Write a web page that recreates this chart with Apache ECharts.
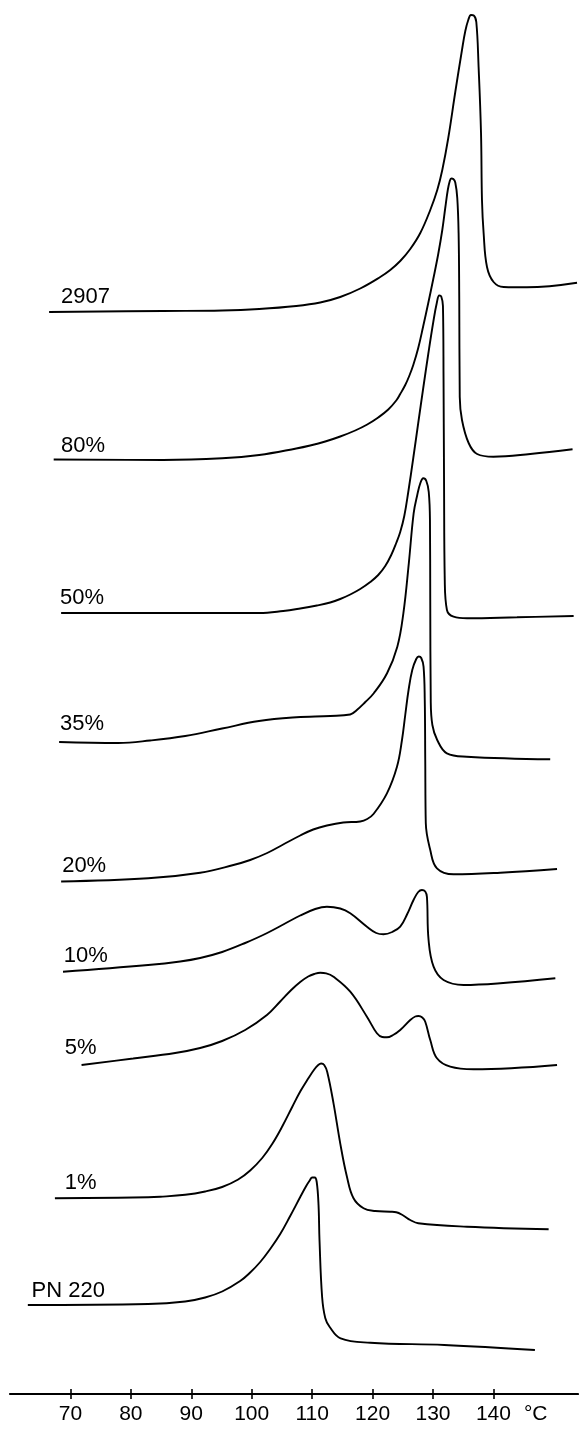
<!DOCTYPE html>
<html>
<head>
<meta charset="utf-8">
<title>DSC melting curves</title>
<script src="https://cdn.jsdelivr.net/npm/echarts@6/dist/echarts.min.js"></script>
<style>
  html, body { margin: 0; padding: 0; background: #fff; }
  #chart { width: 579px; height: 1429px; }
</style>
</head>
<body>
<div id="chart"></div>
<script>
// Sample names, top to bottom
const curveNames = ['2907', '80%', '50%', '35%', '20%', '10%', '5%', '1%', 'PN 220'];
// Vertical shift of each trace (a.u.)
const baselineLevels = [1082, 934.5, 781, 652, 512.5, 422.3, 329, 195.7, 89];
// Temperature ticks (°C)
const tempTicks = [70, 80, 90, 100, 110, 120, 130, 140];

// Each trace: [temperature °C, heat flow above its own baseline (a.u.)]
const trace2907 = [
  [66.47, 0], [85.35, 1], [95.11, 1.5], [101.24, 3], [107.37, 6], [111.34, 9.5],
  [114.65, 15], [117.96, 23.5], [121.27, 35], [122.93, 42], [124.58, 51], [126.24, 63],
  [127.9, 79], [129.55, 102], [130.71, 122], [131.54, 142], [132.53, 174], [133.69, 220],
  [134.8, 262], [135.35, 281], [135.84, 292], [136.29, 297], [136.75, 296.5],
  [137.17, 290], [137.55, 245], [137.95, 179], [138.11, 112], [138.38, 79], [138.94, 45],
  [140.03, 30], [141.69, 25], [145.56, 24.7], [153.84, 29.3]
];
const trace80 = [
  [67.23, 0], [85.35, -0.5], [95.11, 1.2], [101.24, 4.5], [107.37, 11], [109.68, 14],
  [112.17, 18], [114.65, 23], [117.13, 29], [119.12, 35], [120.94, 42], [122.6, 50],
  [123.92, 59], [124.58, 65.5], [125.41, 74.5], [126.07, 83.5], [126.74, 94.5],
  [127.56, 111.5], [128.39, 133.5], [129.22, 156.5], [130.05, 180.5], [130.87, 205.5],
  [131.54, 229.5], [132.03, 251.5], [132.45, 269.5], [132.78, 278.5], [133.03, 281],
  [133.36, 280.5], [133.69, 277], [134.02, 261.5], [134.24, 226.5], [134.35, 159.5],
  [134.43, 62.5], [134.8, 39.5], [135.9, 16.5], [137.3, 5.5], [140.0, 2.8], [146.1, 5.5],
  [153.1, 10.2]
];
const trace50 = [
  [68.46, 0], [101.24, 0], [105.21, 2], [108.03, 4.5], [110.79, 7.5], [112.99, 10.5],
  [114.65, 14], [116.31, 18.5], [117.96, 24], [119.62, 31], [120.94, 38], [122.1, 47],
  [123.09, 58], [123.92, 70], [124.58, 81], [125.25, 97], [125.91, 121], [126.74, 155],
  [127.56, 190], [128.39, 225], [129.22, 259], [130.05, 291], [130.63, 310],
  [131.04, 317.5], [131.37, 316.5], [131.65, 307], [131.75, 233], [131.83, 133],
  [131.95, 33], [132.31, 3], [133.41, -3.7], [135.63, -5.3], [143.9, -4.3], [153.28, -3]
];
const trace35 = [
  [68.13, 0], [77.9, -1], [83.2, 1.5], [89.0, 6], [95.1, 13.5], [101.2, 21], [107.4, 24.7],
  [113.0, 26], [116.3, 27.5], [117.4, 32], [118.8, 40], [120.2, 48.7], [122.4, 68.7],
  [124.1, 95.3], [125.1, 128.7], [126.0, 178.7], [126.8, 228.7], [127.4, 247],
  [127.9, 258.7], [128.4, 263.7], [128.9, 261], [129.3, 250], [129.5, 222], [129.55, 142],
  [129.63, 42], [129.9, 17], [130.7, 2], [132.3, -11.3], [135.6, -14.7], [149.4, -17.3]
];
const trace20 = [
  [68.46, 0], [82.86, 3.2], [91.47, 8.8], [96.98, 16.5], [99.75, 21.5], [102.56, 28.5],
  [105.21, 37], [108.03, 46], [110.18, 52], [112.45, 56], [115.15, 59], [117.96, 60],
  [119.12, 62.5], [120.16, 67.5], [122.38, 88.2], [124.04, 114.8], [124.87, 141.5],
  [125.41, 166.5], [125.96, 191.5], [126.57, 211.5], [127.23, 222.5], [127.65, 225],
  [128.06, 223.5], [128.44, 214.8], [128.64, 181.5], [128.72, 121.5], [128.81, 58.5],
  [129.55, 31.5], [130.66, 13.2], [133.41, 7.2], [141.14, 8.8], [150.53, 12.5]
];
const trace10 = [
  [68.77, 0], [82.86, 6.7], [88.16, 10.2], [91.47, 13.7], [95.11, 19.7], [98.92, 28.7],
  [102.56, 38.7], [108.03, 56.2], [110.51, 62.7], [112.45, 65], [114.65, 63.2],
  [116.31, 58.4], [119.07, 45], [120.61, 38.7], [121.82, 37.4], [123.26, 39.7],
  [124.58, 45], [125.74, 57.7], [126.78, 71.7], [127.56, 79.7], [128.17, 81.7],
  [128.72, 80.2], [129.0, 74.7], [129.27, 31.7], [130.1, 5], [131.75, -8.3],
  [135.07, -13.3], [141.14, -11.6], [150.25, -6.6]
];
const trace5 = [
  [71.84, 0], [80.38, 6.5], [87.33, 12], [91.47, 17], [95.11, 24], [98.92, 35],
  [102.52, 50], [104.72, 63.5], [106.54, 75], [108.03, 83], [109.35, 88.5], [110.35, 91],
  [111.34, 92.3], [112.33, 91.7], [113.54, 88.3], [116.31, 73.3], [119.07, 48.3],
  [120.72, 31.7], [121.6, 28], [122.38, 27.7], [123.4, 30], [124.58, 35], [126.24, 45],
  [127.07, 48.5], [127.61, 49], [128.23, 47.5], [128.72, 43.3], [129.55, 25],
  [130.66, 6.7], [132.86, -1.7], [136.72, -4.3], [150.53, 0]
];
const trace1 = [
  [67.43, 0], [82.86, 1], [84.85, 1.5], [88.99, 3.5], [92.3, 6.8], [95.11, 11.3],
  [97.76, 18.8], [99.75, 27.8], [101.74, 40.3], [103.39, 54.3], [105.05, 71.8],
  [106.7, 91.3], [108.03, 106.8], [109.35, 119.8], [110.35, 128.8], [111.01, 133.3],
  [111.5, 134.8], [112.0, 133.3], [112.5, 126.3], [113.54, 95], [114.65, 55],
  [115.76, 21.6], [116.85, 0], [118.51, -10], [120.44, -12.7], [122.93, -13.4],
  [123.92, -13.9], [125.08, -17.2], [126.24, -21.7], [127.56, -25], [135.63, -28.4],
  [149.14, -31]
];
const tracePN220 = [
  [62.95, 0], [82.86, 1], [88.99, 3.5], [92.3, 7.5], [95.11, 13.5], [98.09, 24],
  [99.75, 32.5], [101.41, 43], [103.06, 56], [104.72, 71], [106.37, 89], [108.03, 108],
  [109.02, 119], [109.6, 124.5], [110.01, 127.5], [110.43, 127.5], [110.76, 123],
  [111.06, 100], [111.22, 65], [111.65, 8.3], [112.17, -13], [112.88, -21.7],
  [114.72, -33.3], [119.62, -37.7], [131.87, -40], [146.87, -45]
];

const traces = [trace2907, trace80, trace50, trace35, trace20, trace10, trace5, trace1, tracePN220];

// Where each sample name sits: [temperature of its left edge, height above the trace baseline]
const nameAnchors = [
  [68.46, 15.5], [68.46, 14], [68.29, 15.5], [68.29, 18], [68.63, 16],
  [68.89, 16.2], [69.07, 17], [69.07, 15.8], [63.56, 14.5]
];

const FONT = 'Liberation Sans, Arial, sans-serif';
const INK = '#000';

const series = traces.map((trace, i) => ({
  type: 'line',
  name: curveNames[i],
  xAxisIndex: 0,
  yAxisIndex: 0,
  data: trace.map(([t, s]) => [t, baselineLevels[i] + s]),
  smooth: 0.4,
  symbol: 'none',
  showSymbol: false,
  silent: true,
  lineStyle: { color: INK, width: 1.9 },
  markPoint: {
    symbol: 'circle',
    symbolSize: 0,
    silent: true,
    data: [{
      coord: [nameAnchors[i][0], baselineLevels[i] + nameAnchors[i][1]],
      value: curveNames[i]
    }],
    label: {
      show: true,
      position: [0, 0],
      align: 'left',
      verticalAlign: 'middle',
      formatter: curveNames[i],
      color: INK,
      fontFamily: FONT,
      fontSize: 22
    }
  }
}));

const chart = echarts.init(document.getElementById('chart'), null, { renderer: 'canvas' });
chart.setOption({
  animation: false,
  backgroundColor: '#fff',
  grid: { left: 10, right: 1, top: 0, bottom: 35, containLabel: false },
  xAxis: [{
    type: 'value',
    min: 60,
    max: 154,
    position: 'bottom',
    axisLine: { show: true, lineStyle: { color: INK, width: 2.2 } },
    axisTick: { show: true, customValues: tempTicks, length: 5, lineStyle: { color: INK, width: 1.6 } },
    axisLabel: {
      show: true,
      customValues: tempTicks.concat([147]),
      formatter: v => (v === 147 ? '°C' : String(v)),
      color: INK,
      fontFamily: FONT,
      fontSize: 21,
      margin: 10
    },
    splitLine: { show: false }
  }, {
    type: 'value',
    min: 60,
    max: 154,
    position: 'bottom',
    axisLine: { show: false },
    axisTick: { show: true, inside: true, customValues: tempTicks, length: 5, lineStyle: { color: INK, width: 1.6 } },
    axisLabel: { show: false },
    splitLine: { show: false }
  }],
  yAxis: {
    type: 'value',
    min: 0,
    max: 1394,
    show: false
  },
  series: series
});
</script>
</body>
</html>
